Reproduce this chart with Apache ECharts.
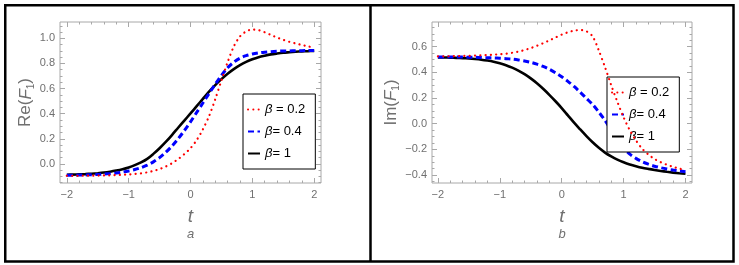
<!DOCTYPE html>
<html>
<head>
<meta charset="utf-8">
<script src="https://cdn.jsdelivr.net/npm/echarts@6/dist/echarts.min.js"></script>
<style>
html,body{margin:0;padding:0;background:#fff;}
#c{width:739px;height:265px;}
</style>
</head>
<body>
<div id="c"></div>
<script>
// ---- data ----
var tVals = [-2.0,-1.9,-1.8,-1.7,-1.6,-1.5,-1.4,-1.3,-1.2,-1.1,-1.0,-0.9,-0.8,-0.7,-0.6,-0.5,-0.4,-0.3,-0.2,-0.1,0.0,0.1,0.2,0.3,0.4,0.5,0.6,0.7,0.8,0.9,1.0,1.1,1.2,1.3,1.4,1.5,1.6,1.7,1.8,1.9,2.0];

var seriesNames = ['β = 0.2', 'β= 0.4', 'β= 1'];

// Panel a: Re(F1)
var re_b02 = [-0.095,-0.095,-0.095,-0.094,-0.094,-0.093,-0.092,-0.091,-0.089,-0.087,-0.084,-0.080,-0.075,-0.067,-0.056,-0.041,-0.021,0.005,0.038,0.078,0.125,0.190,0.275,0.380,0.515,0.665,0.810,0.935,1.015,1.055,1.070,1.065,1.048,1.027,1.006,0.988,0.972,0.959,0.947,0.936,0.925];
var re_b04 = [-0.090,-0.090,-0.089,-0.088,-0.086,-0.084,-0.081,-0.077,-0.072,-0.065,-0.056,-0.045,-0.030,-0.010,0.016,0.050,0.092,0.142,0.200,0.265,0.335,0.410,0.485,0.560,0.635,0.705,0.765,0.810,0.842,0.862,0.875,0.884,0.890,0.894,0.897,0.899,0.900,0.901,0.902,0.903,0.904];
var re_b1  = [-0.086,-0.085,-0.083,-0.081,-0.078,-0.074,-0.069,-0.062,-0.053,-0.042,-0.028,-0.010,0.012,0.040,0.080,0.125,0.175,0.230,0.288,0.345,0.402,0.460,0.518,0.576,0.628,0.675,0.718,0.755,0.786,0.812,0.833,0.850,0.862,0.872,0.879,0.885,0.889,0.893,0.896,0.898,0.900];

// Panel b: Im(F1)
var im_b02 = [0.525,0.525,0.526,0.527,0.528,0.529,0.531,0.533,0.535,0.538,0.541,0.546,0.553,0.562,0.574,0.589,0.607,0.627,0.649,0.672,0.694,0.712,0.725,0.730,0.720,0.680,0.570,0.440,0.300,0.170,0.050,-0.050,-0.130,-0.195,-0.240,-0.275,-0.300,-0.320,-0.336,-0.350,-0.360];
var im_b04 = [0.520,0.520,0.520,0.520,0.519,0.518,0.517,0.516,0.514,0.512,0.510,0.507,0.503,0.497,0.489,0.478,0.464,0.446,0.424,0.397,0.366,0.330,0.290,0.245,0.197,0.150,0.090,0.025,-0.050,-0.125,-0.190,-0.237,-0.270,-0.296,-0.315,-0.331,-0.343,-0.353,-0.361,-0.368,-0.375];
var im_b1  = [0.517,0.516,0.515,0.513,0.511,0.508,0.504,0.499,0.492,0.483,0.471,0.456,0.437,0.414,0.386,0.353,0.315,0.272,0.225,0.175,0.122,0.065,0.008,-0.045,-0.097,-0.145,-0.188,-0.225,-0.255,-0.280,-0.300,-0.317,-0.331,-0.343,-0.352,-0.360,-0.368,-0.375,-0.381,-0.386,-0.390];

// tick labels
var xTicks = [-2, -1, 0, 1, 2];
var yTicksRe = [0.0, 0.2, 0.4, 0.6, 0.8, 1.0];
var yTicksIm = [-0.4, -0.2, 0.0, 0.2, 0.4, 0.6];

// ---- helpers ----
function pairs(ys){ return tVals.map(function(t,i){ return [t, ys[i]]; }); }
function minorVals(min, max, step, majors){
  var out = [];
  var start = Math.ceil(min/step - 1e-9);
  for (var k = start; k*step <= max + 1e-9; k++){
    var v = +(k*step).toFixed(4);
    var isMajor = majors.some(function(m){ return Math.abs(m - v) < 1e-6; });
    if (!isMajor) out.push(v);
  }
  return out;
}
function fmtNum(v, dec){
  var s = Math.abs(v).toFixed(dec);
  return (v < -1e-9 ? '\u2212' : '') + s;
}

var FONT = 'Liberation Sans';
var FRAME = '#a8a8a8';
var LABEL = '#707070';

var styles = [
  {color:'#ff0000', width:2.2, type:[0.1, 5.2], cap:'round'},
  {color:'#0000ff', width:3, type:[6, 3.5], cap:'butt'},
  {color:'#000000', width:2.6, type:'solid', cap:'butt'}
];

function makeAxes(gridIndex, xmin, xmax, ymin, ymax, yMajors, xName, yNameRich){
  var xMinor = minorVals(xmin, xmax, 0.2, xTicks);
  var yMinor = minorVals(ymin, ymax, 0.05, yMajors);
  var base = {gridIndex:gridIndex, type:'value', splitLine:{show:false}, axisLine:{show:false, onZero:false}};
  var xs = [], ys = [];
  ['bottom','top'].forEach(function(pos){
    xs.push(Object.assign({}, base, {
      position:pos, min:xmin, max:xmax,
      axisTick:{show:true, inside:true, length:5, customValues:xTicks, lineStyle:{color:FRAME, width:1}},
      axisLabel:{show:pos==='bottom', customValues:xTicks, margin:6, color:LABEL, fontFamily:FONT, fontSize:11,
        formatter:function(v){ return fmtNum(v,0); }},
      name: pos==='bottom' ? xName : '',
      nameLocation:'middle', nameGap:24,
      nameTextStyle:{rich:{
        t:{fontFamily:FONT, fontStyle:'italic', fontSize:19, color:LABEL, lineHeight:20, align:'center'},
        s:{fontFamily:FONT, fontStyle:'italic', fontSize:13, color:LABEL, lineHeight:15, align:'center'}
      }}
    }));
    xs.push(Object.assign({}, base, {
      position:pos, min:xmin, max:xmax,
      axisTick:{show:true, inside:true, length:2.5, customValues:xMinor, lineStyle:{color:FRAME, width:1}},
      axisLabel:{show:false}
    }));
  });
  ['left','right'].forEach(function(pos){
    ys.push(Object.assign({}, base, {
      position:pos, min:ymin, max:ymax,
      axisTick:{show:true, inside:true, length:5, customValues:yMajors, lineStyle:{color:FRAME, width:1}},
      axisLabel:{show:pos==='left', customValues:yMajors, margin:5, color:LABEL, fontFamily:FONT, fontSize:11,
        formatter:function(v){ return fmtNum(v,1); }},
      name: pos==='left' ? yNameRich : '',
      nameLocation:'middle', nameRotate:90, nameGap:24,
      nameTextStyle:{rich:{
        n:{fontFamily:FONT, fontSize:17, color:LABEL, lineHeight:20},
        i:{fontFamily:FONT, fontStyle:'italic', fontSize:17, color:LABEL, lineHeight:20},
        s:{fontFamily:FONT, fontSize:10, color:LABEL, lineHeight:20, verticalAlign:'bottom'}
      }}
    }));
    ys.push(Object.assign({}, base, {
      position:pos, min:ymin, max:ymax,
      axisTick:{show:true, inside:true, length:2.5, customValues:yMinor, lineStyle:{color:FRAME, width:1}},
      axisLabel:{show:false}
    }));
  });
  return {x:xs, y:ys};
}

var axA = makeAxes(0, -2.11, 2.11, -0.152, 1.13, yTicksRe, '{t|t}\n{s|a}', '{n|Re(}{i|F}{s|1}{n|)}');
var axB = makeAxes(1, -2.095, 2.105, -0.462, 0.7925, yTicksIm, '{t|t}\n{s|b}', '{n|Im(}{i|F}{s|1}{n|)}');

var xAxes = axA.x.concat(axB.x);   // panel a: 0..3, panel b: 4..7
var yAxes = axA.y.concat(axB.y);

var panelData = [[re_b02, re_b04, re_b1], [im_b02, im_b04, im_b1]];
var series = [];
panelData.forEach(function(set, p){
  set.forEach(function(ys, k){
    var st = styles[k];
    series.push({
      name: seriesNames[k], type:'line', xAxisIndex:p*4, yAxisIndex:p*4,
      data: pairs(ys), showSymbol:false, symbol:'none', smooth:0.3, animation:false,
      z: 2 + (2-k),
      lineStyle:{color:st.color, width:st.width, type:st.type, cap:st.cap},
      itemStyle:{color:st.color}
    });
  });
});

function legendCfg(left, top){
  return {
    left:left, top:top, orient:'vertical',
    data: seriesNames.slice(),
    backgroundColor:'#fff', borderColor:'#000', borderWidth:1,
    padding:[9,10,9,4], itemWidth:12, itemHeight:12, itemGap:9,
    selectedMode:false,
    itemStyle:{opacity:0},
    formatter:function(name){
      return '{i|β}{n|' + name.slice(1) + '}';
    },
    textStyle:{color:'#000', fontFamily:FONT, fontSize:13, rich:{
      i:{fontFamily:FONT, fontStyle:'italic', fontSize:13, color:'#000'},
      n:{fontFamily:FONT, fontSize:13, color:'#000'}
    }}
  };
}

var option = {
  animation:false,
  backgroundColor:'#fff',
  grid:[
    {left:60, top:22, width:261, height:161, show:true, borderColor:FRAME, borderWidth:1, backgroundColor:'transparent'},
    {left:432, top:22, width:260, height:161, show:true, borderColor:FRAME, borderWidth:1, backgroundColor:'transparent'}
  ],
  xAxis: xAxes,
  yAxis: yAxes,
  legend:[legendCfg(243, 94), legendCfg(607, 77)],
  series: series,
  graphic:[
    {type:'rect', z:100, shape:{x:5.25, y:5.25, width:728.25, height:256.25}, style:{fill:null, stroke:'#000', lineWidth:2.5}},
    {type:'line', z:100, shape:{x1:370.5, y1:5, x2:370.5, y2:261.5}, style:{stroke:'#000', lineWidth:2.5}}
  ]
};

var chart = echarts.init(document.getElementById('c'), null, {renderer:'canvas'});
chart.setOption(option);
</script>
</body>
</html>
